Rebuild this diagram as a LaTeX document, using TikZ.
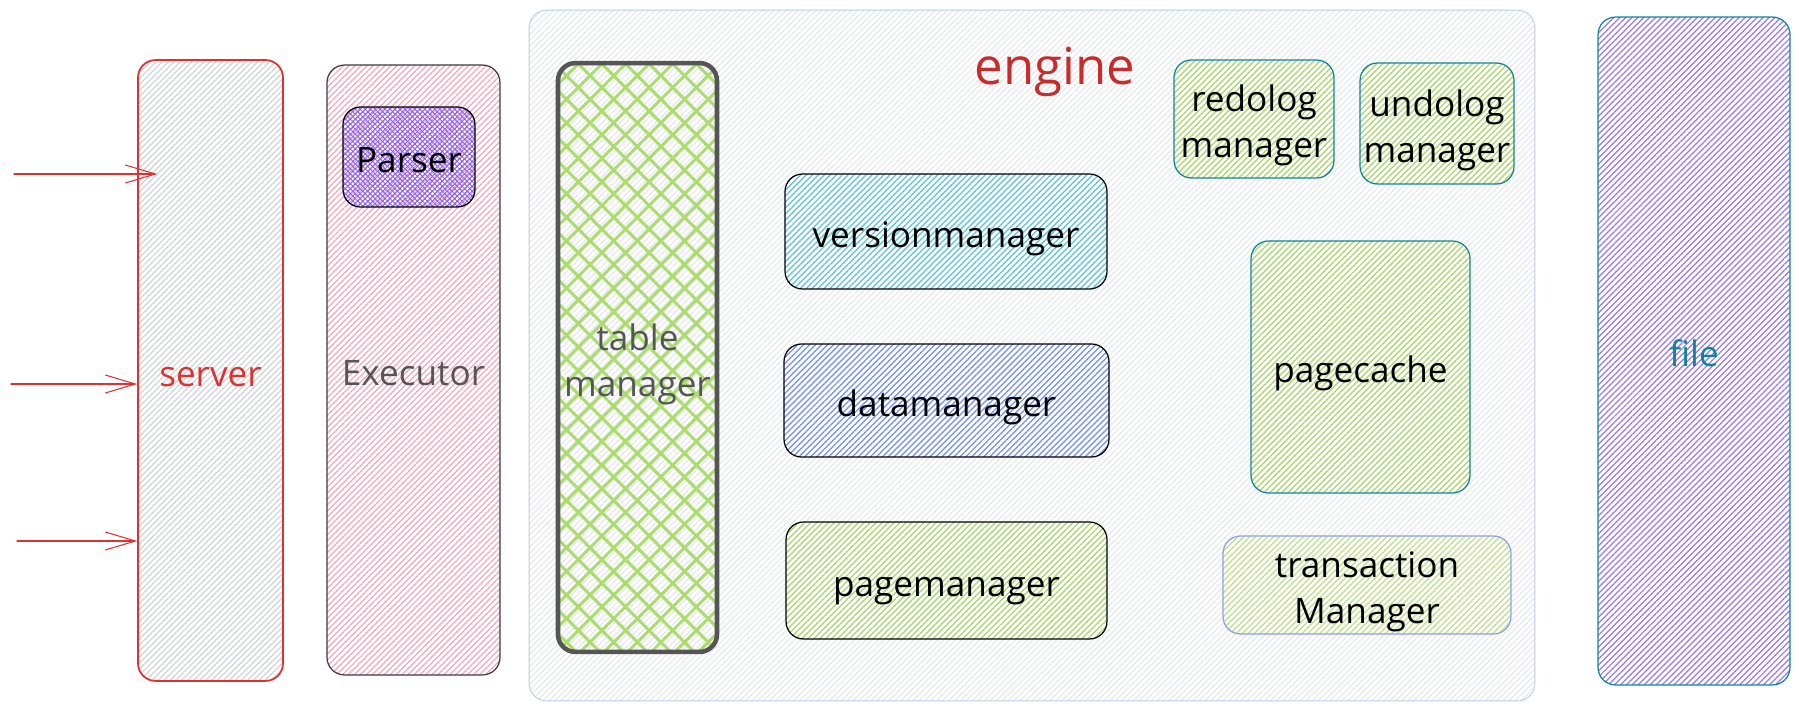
\documentclass[tikz,border=0pt]{standalone}
\usepackage{fontspec}
\setmainfont{Open Sans}
\usetikzlibrary{arrows.meta, patterns.meta}

\definecolor{srvred}{HTML}{E03131}
\definecolor{srvfill}{HTML}{CED4DA}
\definecolor{exefill}{HTML}{F4A6BC}
\definecolor{exestroke}{HTML}{3B3B3B}
\definecolor{graytext}{HTML}{555555}
\definecolor{parserfill}{HTML}{845EF7}
\definecolor{engstroke}{HTML}{B7CCE6}
\definecolor{engfill}{HTML}{E6E8EB}
\definecolor{engtext}{HTML}{C92A2A}
\definecolor{tabfill}{HTML}{AADC6E}
\definecolor{verfill}{HTML}{5CC6DA}
\definecolor{datfill}{HTML}{748FFC}
\definecolor{pgfill}{HTML}{A9D96A}
\definecolor{teal}{HTML}{0C8599}
\definecolor{transstroke}{HTML}{8CA0E6}
\definecolor{transfill}{HTML}{C0E38A}
\definecolor{filefill}{HTML}{9775FA}

\begin{document}
\begin{tikzpicture}[%
        x = 0.02cm,
        y = -0.02cm,
        line cap = round,
        line join = round,
        box/.style = {draw, line width = 0.7pt, rounded corners = 0.35cm,
            align = center, inner sep = 0pt,
            font = \fontsize{20}{26}\selectfont,
            text height = 18pt, text depth = 0pt},
        twoline/.style = {text height = 44pt},
        hachure/.style = {pattern = {Lines[angle = 45, distance = 2.4pt,
            line width = 0.7pt]}, pattern color = #1},
        crosshatch/.style = {pattern = {Hatch[angle = 45, distance = #1,
            line width = 0.5pt]}},
        feed/.style = {srvred, line width = 0.6pt,
            -{Straight Barb[length = 0.6cm, width = 0.36cm]}}
    ]

        \useasboundingbox (0, 0) rectangle (1799, 713);

        % The engine frame sits behind its parts.
        \node[box, draw = engstroke, line width = 0.5pt, hachure = engfill,
            minimum width = 20.12cm, minimum height = 13.82cm]
            (engine) at (1032, 355.5) {};
        \node[text = engtext, font = \fontsize{29}{34}\selectfont]
            (title) at (1055, 72) {engine};

        % Server, executor and the parser inside it.
        \node[box, draw = srvred, line width = 1pt, hachure = srvfill,
            text = srvred, minimum width = 2.9cm, minimum height = 12.42cm]
            (server) at (210.5, 370.5) {server};
        \node[box, draw = exestroke, hachure = exefill, text = graytext,
            minimum width = 3.46cm, minimum height = 12.2cm]
            (executor) at (413.5, 370) {Executor};
        \node[box, draw = black, crosshatch = 2pt, pattern color = parserfill,
            minimum width = 2.64cm, minimum height = 2cm]
            (parser) at (409, 157) {Parser};

        % Incoming requests.
        \coordinate (in1) at (14, 174);
        \coordinate (in2) at (11, 384);
        \coordinate (in3) at (17, 541);
        \draw[feed] (in1) -- ([xshift = 0.4cm]in1 -| server.west);
        \draw[feed] (in2) -- (in2 -| server.west);
        \draw[feed] (in3) -- (in3 -| server.west);

        % Table manager.
        \node[box, twoline, draw = graytext, line width = 2.6pt, text = graytext,
            pattern = {Hatch[angle = 45, distance = 9.5pt, line width = 1.7pt]},
            pattern color = tabfill,
            minimum width = 3.18cm, minimum height = 11.78cm]
            (table) at (637.5, 357.5) {table\\manager};

        % The three managers in the middle column.
        \node[box, hachure = verfill, minimum width = 6.44cm,
            minimum height = 2.3cm] (version) at (946, 231.5) {versionmanager};
        \node[box, hachure = datfill, minimum width = 6.5cm,
            minimum height = 2.26cm] (data) at (946.5, 400.5) {datamanager};
        \node[box, hachure = pgfill, minimum width = 6.42cm,
            minimum height = 2.34cm] (page) at (946.5, 580.5) {pagemanager};

        % Logs, cache and transactions.
        \node[box, twoline, draw = teal, hachure = pgfill, minimum width = 3.2cm,
            minimum height = 2.36cm] (redo) at (1254, 119) {redolog\\manager};
        \node[box, twoline, draw = teal, hachure = pgfill, minimum width = 3.08cm,
            minimum height = 2.42cm] (undo) at (1437, 123.5) {undolog\\manager};
        \node[box, draw = teal, hachure = pgfill, minimum width = 4.38cm,
            minimum height = 5.04cm] (cache) at (1360.5, 367) {pagecache};
        \node[box, twoline, draw = transstroke, hachure = transfill,
            minimum width = 5.76cm, minimum height = 1.96cm]
            (trans) at (1367, 585) {transaction\\Manager};

        % The file on disk.
        \node[box, draw = teal, hachure = filefill, text = teal,
            minimum width = 3.84cm, minimum height = 13.36cm]
            (file) at (1694, 351) {file};
    \end{tikzpicture}
\end{document}
